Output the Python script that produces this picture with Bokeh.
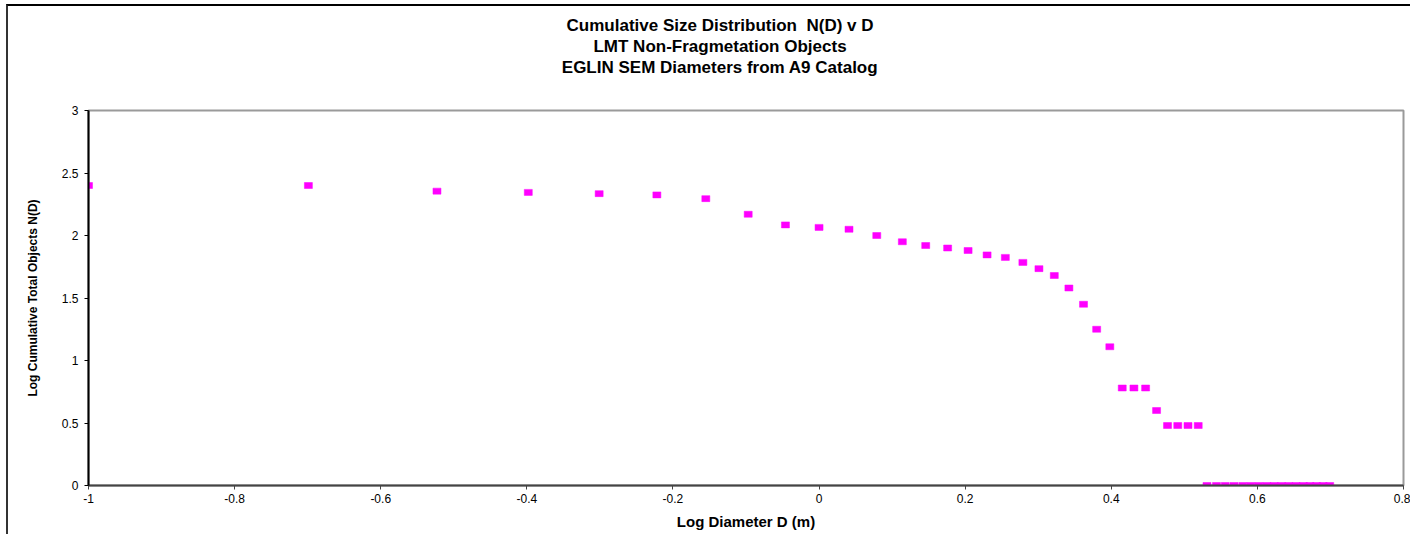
from bokeh.plotting import figure
from bokeh.models import FixedTicker, ColumnDataSource, Title
from bokeh.embed import file_html
from bokeh.resources import INLINE

# ---- data ----
log_d = [-1.0, -0.699, -0.523, -0.398, -0.301, -0.222, -0.155, -0.097, -0.046, 0.0,
         0.041, 0.079, 0.114, 0.146, 0.176, 0.204, 0.230, 0.255, 0.279, 0.301,
         0.322, 0.342, 0.362, 0.380, 0.398, 0.415, 0.431, 0.447, 0.462, 0.477,
         0.491, 0.505, 0.519,
         0.531, 0.544, 0.556, 0.568, 0.580, 0.591, 0.602, 0.613, 0.623, 0.633,
         0.643, 0.653, 0.663, 0.672, 0.681, 0.690, 0.699]
log_n = [2.40, 2.40, 2.355, 2.345, 2.335, 2.325, 2.295, 2.17, 2.085, 2.065,
         2.05, 2.0, 1.95, 1.92, 1.90, 1.88, 1.845, 1.825, 1.785, 1.735,
         1.68, 1.58, 1.45, 1.25, 1.11, 0.78, 0.78, 0.78, 0.60, 0.48,
         0.48, 0.48, 0.48,
         0, 0, 0, 0, 0, 0, 0, 0, 0, 0,
         0, 0, 0, 0, 0, 0, 0]

x_ticks = [-1.0, -0.8, -0.6, -0.4, -0.2, 0.0, 0.2, 0.4, 0.6, 0.8]
x_tick_labels = ["-1", "-0.8", "-0.6", "-0.4", "-0.2", "0", "0.2", "0.4", "0.6", "0.8"]
y_ticks = [0.0, 0.5, 1.0, 1.5, 2.0, 2.5, 3.0]
y_tick_labels = ["0", "0.5", "1", "1.5", "2", "2.5", "3"]

title_lines = ["Cumulative Size Distribution  N(D) v D",
               "LMT Non-Fragmetation Objects",
               "EGLIN SEM Diameters from A9 Catalog"]
x_label = "Log Diameter D (m)"
y_label = "Log Cumulative Total Objects N(D)"

FONT = "Liberation Sans"
NBSP = "\u00a0"

p = figure(width=1404, height=530, output_backend="svg", toolbar_location=None,
           x_range=(-1.0, 0.8), y_range=(0, 3),
           min_border_left=80, min_border_right=9, min_border_top=104,
           min_border_bottom=51)
p.title = None
p.styles = {"border-left": "2px solid #333333", "border-top": "2px solid #000000",
            "margin-left": "6px", "margin-top": "4px"}

p.background_fill_color = "white"
p.border_fill_color = "white"
p.outline_line_color = "#9a9a9a"
p.outline_line_width = 2
p.xgrid.visible = False
p.ygrid.visible = False

src = ColumnDataSource(dict(x=log_d, y=log_n))
p.rect(x="x", y="y", width=8, height=6, width_units="screen", height_units="screen",
       source=src, fill_color="#FF00FF", line_color="#FF00FF", line_width=0.5)

# gap between the plot frame and the title block
p.add_layout(Title(text=NBSP, text_font_size="1px", standoff=31), "above")
# title: three centred lines; each later one sits further from the frame.
# trailing no-break spaces shift each centred line left onto the chart-area centre.
for line in reversed(title_lines):
    t = Title(text=line.replace("  ", NBSP + " ") + NBSP * 11, align="center",
              text_font=FONT, text_font_size="17px", text_font_style="bold",
              text_color="black", standoff=0)
    p.add_layout(t, "above")

for ax, ticks, labels in ((p.xaxis[0], x_ticks, x_tick_labels), (p.yaxis[0], y_ticks, y_tick_labels)):
    ax.ticker = FixedTicker(ticks=ticks)
    ax.major_label_overrides = {t: l for t, l in zip(ticks, labels)}
    ax.minor_tick_line_color = None
    ax.major_tick_in = 0
    ax.major_tick_out = 4
    ax.major_label_text_font = FONT
    ax.major_label_text_font_size = "12px"
    ax.major_label_text_color = "black"
    ax.axis_label_text_font = FONT
    ax.axis_label_text_font_style = "bold"
    ax.axis_label_text_color = "black"

p.xaxis.axis_line_color = "#444444"
p.xaxis.axis_line_width = 2
p.xaxis.major_tick_line_color = "#444444"
p.xaxis.axis_label = x_label
p.xaxis.axis_label_text_font_size = "15px"
p.xaxis.major_label_standoff = 4
p.xaxis.axis_label_standoff = 7

p.yaxis.axis_line_color = "black"
p.yaxis.axis_line_width = 2
p.yaxis.major_tick_line_color = "black"
p.yaxis.axis_label = y_label
p.yaxis.axis_label_text_font_size = "12px"
p.yaxis.major_label_standoff = 6
p.yaxis.axis_label_standoff = 19

open("out.html", "w").write(file_html(p, INLINE))
